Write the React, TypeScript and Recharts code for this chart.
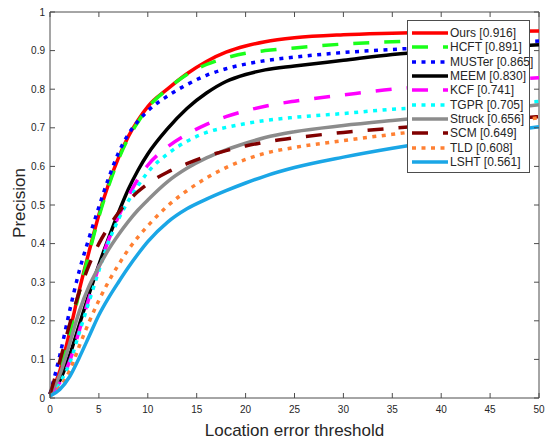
import { Label, Line, LineChart, ReferenceLine, XAxis, YAxis } from 'recharts';

const thresholds = [0, 1, 2, 3, 4, 5, 6, 7, 8, 9, 10, 12, 14, 16, 18, 20, 22, 25, 30, 35, 40, 45, 50];

const ours = [0.01, 0.07, 0.17, 0.28, 0.38, 0.475, 0.555, 0.622, 0.677, 0.72, 0.755, 0.8, 0.84, 0.872, 0.896, 0.912, 0.923, 0.933, 0.941, 0.945, 0.948, 0.95, 0.951];
const hcft = [0.01, 0.065, 0.165, 0.275, 0.375, 0.47, 0.55, 0.618, 0.673, 0.715, 0.752, 0.8, 0.838, 0.864, 0.881, 0.893, 0.9, 0.907, 0.917, 0.923, 0.927, 0.93, 0.933];
const muster = [0.01, 0.11, 0.225, 0.33, 0.415, 0.495, 0.57, 0.635, 0.683, 0.717, 0.744, 0.782, 0.812, 0.836, 0.853, 0.865, 0.874, 0.883, 0.895, 0.903, 0.91, 0.918, 0.925];
const meem = [0.01, 0.045, 0.11, 0.19, 0.27, 0.345, 0.415, 0.48, 0.54, 0.59, 0.632, 0.697, 0.75, 0.79, 0.82, 0.838, 0.85, 0.86, 0.875, 0.89, 0.9, 0.908, 0.915];
const kcf = [0.01, 0.04, 0.095, 0.175, 0.26, 0.34, 0.41, 0.47, 0.522, 0.567, 0.603, 0.65, 0.683, 0.709, 0.729, 0.744, 0.756, 0.769, 0.785, 0.8, 0.81, 0.82, 0.83];
const tgpr = [0.01, 0.04, 0.09, 0.17, 0.25, 0.33, 0.405, 0.463, 0.51, 0.55, 0.585, 0.632, 0.665, 0.688, 0.701, 0.711, 0.719, 0.727, 0.737, 0.748, 0.755, 0.762, 0.768];
const struck = [0.01, 0.06, 0.14, 0.225, 0.29, 0.34, 0.385, 0.423, 0.457, 0.487, 0.513, 0.56, 0.595, 0.622, 0.643, 0.66, 0.675, 0.69, 0.706, 0.719, 0.731, 0.745, 0.76];
const scm = [0.01, 0.095, 0.19, 0.275, 0.345, 0.4, 0.443, 0.48, 0.51, 0.535, 0.555, 0.585, 0.607, 0.626, 0.641, 0.653, 0.663, 0.674, 0.688, 0.699, 0.709, 0.719, 0.729];
const tld = [0.005, 0.028, 0.07, 0.135, 0.197, 0.253, 0.302, 0.345, 0.384, 0.417, 0.446, 0.497, 0.537, 0.57, 0.597, 0.618, 0.634, 0.649, 0.667, 0.683, 0.698, 0.712, 0.726];
const lsht = [0.005, 0.022, 0.055, 0.105, 0.16, 0.215, 0.26, 0.3, 0.338, 0.373, 0.405, 0.455, 0.49, 0.515, 0.537, 0.557, 0.575, 0.597, 0.624, 0.647, 0.667, 0.686, 0.703];

const xTicks = [0, 5, 10, 15, 20, 25, 30, 35, 40, 45, 50];
const yTicks = [0, 0.1, 0.2, 0.3, 0.4, 0.5, 0.6, 0.7, 0.8, 0.9, 1];
const yTickLabels = ['0', '0.1', '0.2', '0.3', '0.4', '0.5', '0.6', '0.7', '0.8', '0.9', '1'];

const DASHED = '16 15';
const DOTTED = '4 5.5';

const series = [
    { key: 'ours', label: 'Ours [0.916]', values: ours, color: '#ff0000', dash: undefined },
    { key: 'hcft', label: 'HCFT [0.891]', values: hcft, color: '#1aff1a', dash: DASHED },
    { key: 'muster', label: 'MUSTer [0.865]', values: muster, color: '#0000ff', dash: DOTTED },
    { key: 'meem', label: 'MEEM [0.830]', values: meem, color: '#000000', dash: undefined },
    { key: 'kcf', label: 'KCF [0.741]', values: kcf, color: '#ff00ff', dash: DASHED },
    { key: 'tgpr', label: 'TGPR [0.705]', values: tgpr, color: '#00ffff', dash: DOTTED },
    { key: 'struck', label: 'Struck [0.656]', values: struck, color: '#8c8c8c', dash: undefined },
    { key: 'scm', label: 'SCM [0.649]', values: scm, color: '#800000', dash: DASHED },
    { key: 'tld', label: 'TLD [0.608]', values: tld, color: '#ff8033', dash: DOTTED },
    { key: 'lsht', label: 'LSHT [0.561]', values: lsht, color: '#1aa6e6', dash: undefined },
];

const data = thresholds.map((t, i) => {
    const row: Record<string, number> = { t };
    series.forEach((s) => {
        row[s.key] = s.values[i];
    });
    return row;
});

const WIDTH = 545;
const HEIGHT = 439;
const PLOT = { left: 50, right: 539, top: 12, bottom: 398 };
const AXIS_COLOR = '#4d4d4d';
const TEXT_COLOR = '#262626';
const FONT = 'Liberation Sans, Arial, Helvetica, sans-serif';
const TICK_LEN = 5;
const LINE_WIDTH = 3.5;

const XTick = ({ x, payload }: { x?: number; payload?: { value: number } }) => {
    if (x == null || !payload) return null;
    return (
        <g>
            <line x1={x} x2={x} y1={PLOT.bottom} y2={PLOT.bottom - TICK_LEN} stroke={AXIS_COLOR} />
            <line x1={x} x2={x} y1={PLOT.top} y2={PLOT.top + TICK_LEN} stroke={AXIS_COLOR} />
            <text x={x} y={413} textAnchor='middle' fill={TEXT_COLOR} fontSize={10} fontFamily={FONT}>
                {payload.value}
            </text>
        </g>
    );
};

const YTick = ({ y, payload }: { y?: number; payload?: { value: number } }) => {
    if (y == null || !payload) return null;
    const idx = yTicks.indexOf(payload.value);
    return (
        <g>
            <line x1={PLOT.left} x2={PLOT.left + TICK_LEN} y1={y} y2={y} stroke={AXIS_COLOR} />
            <line x1={PLOT.right} x2={PLOT.right - TICK_LEN} y1={y} y2={y} stroke={AXIS_COLOR} />
            <text x={45} y={y + 3.5} textAnchor='end' fill={TEXT_COLOR} fontSize={10} fontFamily={FONT}>
                {idx >= 0 ? yTickLabels[idx] : payload.value}
            </text>
        </g>
    );
};

const ChartLegend = () => (
    <div
        style={{
            position: 'absolute',
            left: 407,
            top: 20,
            width: 123,
            height: 153,
            boxSizing: 'border-box',
            border: `1px solid ${AXIS_COLOR}`,
            background: '#fff',
            paddingTop: 5,
            fontFamily: FONT,
            fontSize: 12,
            color: TEXT_COLOR,
        }}
    >
        {series.map((s) => (
            <div key={s.key} style={{ display: 'flex', alignItems: 'center', height: 14.3, paddingLeft: 4 }}>
                <svg width={36} height={8} style={{ flexShrink: 0 }}>
                    <line
                        x1={0}
                        x2={36}
                        y1={4}
                        y2={4}
                        stroke={s.color}
                        strokeWidth={LINE_WIDTH}
                        strokeDasharray={s.dash}
                    />
                </svg>
                <span style={{ marginLeft: 2, whiteSpace: 'nowrap', lineHeight: '14px' }}>{s.label}</span>
            </div>
        ))}
    </div>
);

export default function App() {
    return (
        <div style={{ position: 'absolute', left: 0, top: 0, width: WIDTH, height: HEIGHT, background: '#fff' }}>
            <LineChart
                width={WIDTH}
                height={HEIGHT}
                data={data}
                margin={{ top: PLOT.top, right: WIDTH - PLOT.right, bottom: 0, left: 0 }}
            >
                <XAxis
                    dataKey='t'
                    type='number'
                    domain={[0, 50]}
                    ticks={xTicks}
                    height={HEIGHT - PLOT.bottom}
                    axisLine={{ stroke: AXIS_COLOR }}
                    tickLine={false}
                    tick={<XTick />}
                    interval={0}
                >
                    <Label
                        content={() => (
                            <text
                                x={(PLOT.left + PLOT.right) / 2}
                                y={436}
                                textAnchor='middle'
                                fill={TEXT_COLOR}
                                fontSize={17}
                                fontFamily={FONT}
                            >
                                Location error threshold
                            </text>
                        )}
                    />
                </XAxis>
                <YAxis
                    type='number'
                    domain={[0, 1]}
                    ticks={yTicks}
                    width={PLOT.left}
                    axisLine={{ stroke: AXIS_COLOR }}
                    tickLine={false}
                    tick={<YTick />}
                    interval={0}
                >
                    <Label
                        content={() => (
                            <text
                                x={25}
                                y={203}
                                transform='rotate(-90, 25, 203)'
                                textAnchor='middle'
                                fill={TEXT_COLOR}
                                fontSize={17}
                                fontFamily={FONT}
                            >
                                Precision
                            </text>
                        )}
                    />
                </YAxis>
                <ReferenceLine y={1} stroke={AXIS_COLOR} />
                <ReferenceLine x={50} stroke={AXIS_COLOR} />
                {series.map((s) => (
                    <Line
                        key={s.key}
                        type='monotone'
                        dataKey={s.key}
                        name={s.label}
                        stroke={s.color}
                        strokeWidth={LINE_WIDTH}
                        strokeDasharray={s.dash}
                        dot={false}
                        activeDot={false}
                        isAnimationActive={false}
                    />
                ))}
            </LineChart>
            <ChartLegend />
        </div>
    );
}
